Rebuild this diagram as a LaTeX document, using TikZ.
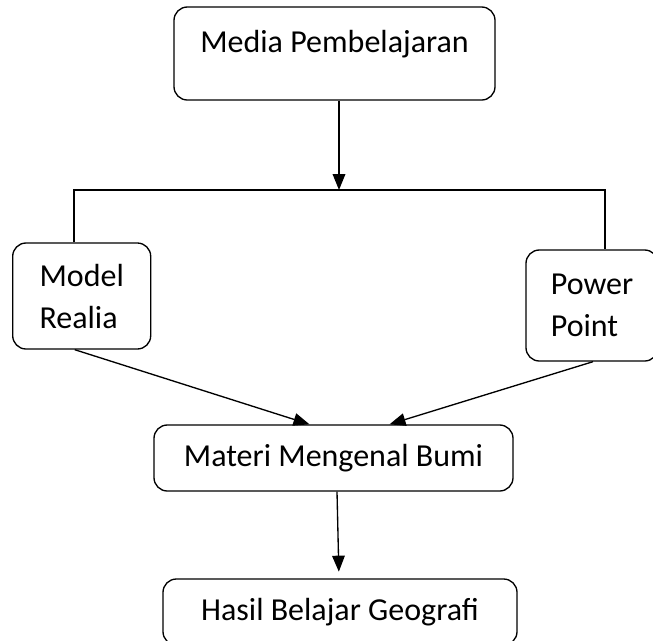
\documentclass[tikz,border=0pt]{standalone}
\usepackage{fontspec}
\setmainfont{Carlito}
\usetikzlibrary{arrows.meta,calc}

\tikzset{every picture/.style={line width=1pt}}
\tikzset{rbox/.style={draw,rounded corners=10pt,inner sep=0pt,align=left,
  font=\fontsize{24}{31.5}\selectfont}}
\tikzset{flow/.style={-{Triangle[length=12pt,width=9.5pt]}}}

\begin{document}
\begin{tikzpicture}[x=0.75pt,y=0.75pt,yscale=-1,xscale=1]
\useasboundingbox (0,0) rectangle (653,640);
\clip (0,0) rectangle (653,640);

%Shape: Rounded Rect [media]
\node [rbox,minimum width=240.75pt,minimum height=69.75pt,text depth=18pt] (media) at (334.5,53.5) {Media Pembelajaran};
%Shape: Rounded Rect [realia]
\node [rbox,minimum width=103.5pt,minimum height=79.5pt] (realia) at (81.7,296) {Model\\Realia};
%Shape: Rounded Rect [ppoint]
\node [rbox,minimum width=99pt,minimum height=83.25pt] (ppoint) at (592,305.5) {Power\\Point};
%Shape: Rounded Rect [materi]
\node [rbox,minimum width=269.25pt,minimum height=49.5pt] (materi) at (333.5,458) {Materi Mengenal Bumi};
%Shape: Rounded Rect [hasil]
\node [rbox,minimum width=265.5pt,minimum height=49.5pt] (hasil) at (340,612) {Hasil Belajar Geografi};

%Straight Lines [split]
\coordinate (split) at (339,190);
\coordinate (bl) at (74,190);
\coordinate (br) at (605,190);
\draw [flow] (split |- media.south) -- (split);
\draw (realia.north -| bl) -- (bl) -- (br) -- (br |- ppoint.north);

%Straight Lines [to materi]
\draw [flow] ($(realia.south)+(-7,0)$) -- ($(materi.north)+(-24,0)$);
\draw [flow] ($(ppoint.south)+(1,0)$) -- ($(materi.north)+(56,0)$);
\draw [flow,shorten >=5pt] ($(materi.south)+(3.5,0)$) -- ($(hasil.north)+(-1,0)$);

\end{tikzpicture}
\end{document}
